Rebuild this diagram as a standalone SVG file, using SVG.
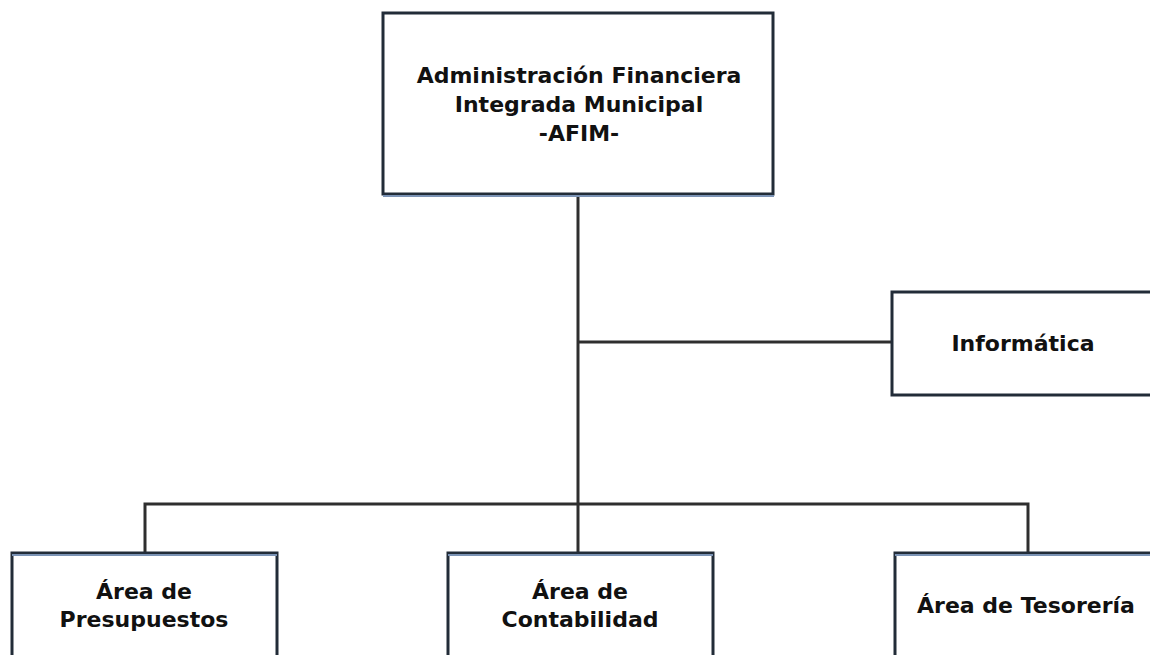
<svg xmlns="http://www.w3.org/2000/svg" width="1150" height="655" viewBox="0 0 1150 655">
<style>
.box{fill:#ffffff;stroke:#222c38;stroke-width:3}
.sh{stroke:#7b93b5;stroke-width:2;fill:none}
.ln{stroke:#2e2e2e;stroke-width:3;fill:none}
text{font-family:"DejaVu Sans","Liberation Sans",Arial,sans-serif;font-weight:bold;font-size:22px;fill:#111;text-anchor:middle}
</style>
<rect width="1150" height="655" fill="#ffffff"/>
<g id="connectors">
<line class="ln" x1="578" y1="195" x2="578" y2="553"/>
<line class="ln" x1="578" y1="342" x2="892" y2="342"/>
<polyline class="ln" points="145,553 145,504 1028,504 1028,553"/>
</g>
<g id="afim">
<rect class="box" x="383" y="13" width="390" height="181"/>
<line class="sh" x1="383" y1="196" x2="774" y2="196"/>
<text x="579" y="83">Administración Financiera</text>
<text x="579" y="112">Integrada Municipal</text>
<text x="579" y="141">-AFIM-</text>
</g>
<g id="informatica">
<rect class="box" x="892" y="292" width="270" height="103"/>
<text x="1023" y="351">Informática</text>
</g>
<g id="presupuestos">
<rect class="box" x="12" y="553" width="265" height="120"/>
<line class="sh" x1="12" y1="555" x2="277" y2="555"/>
<text x="144" y="599">Área de</text>
<text x="144" y="627">Presupuestos</text>
</g>
<g id="contabilidad">
<rect class="box" x="448" y="553" width="265" height="120"/>
<line class="sh" x1="448" y1="555" x2="713" y2="555"/>
<text x="580" y="599">Área de</text>
<text x="580" y="627">Contabilidad</text>
</g>
<g id="tesoreria">
<rect class="box" x="895" y="553" width="270" height="120"/>
<line class="sh" x1="895" y1="555" x2="1165" y2="555"/>
<text x="1026" y="613">Área de Tesorería</text>
</g>
</svg>
